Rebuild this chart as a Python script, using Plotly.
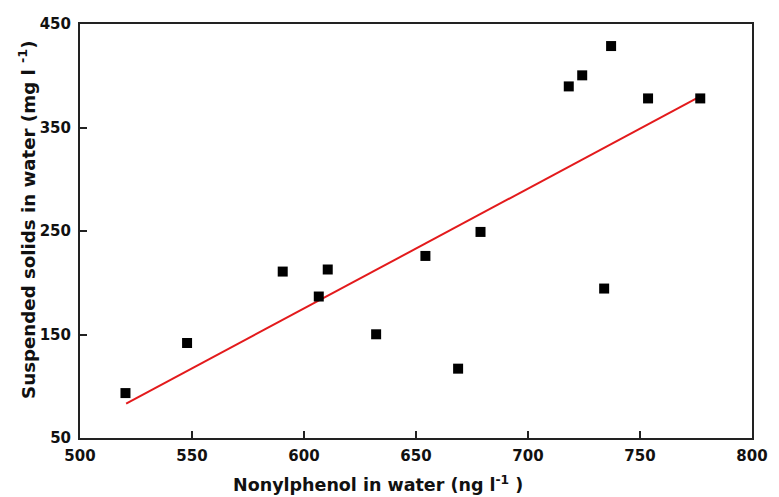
import plotly.graph_objects as go

# Data
nonylphenol = [520.3, 547.8, 590.5, 610.6, 606.6, 632.2, 654.2, 678.8, 668.8,
               737.1, 724.2, 718.2, 753.6, 776.9, 734.0]
suspended = [93.4, 141.8, 210.8, 212.8, 186.7, 150.2, 225.9, 249.1, 117.0,
             428.7, 400.4, 389.7, 378.1, 378.1, 194.4]

fit_x = [520.6, 777.3]
fit_y = [83.2, 380.5]

x_ticks = [500, 550, 600, 650, 700, 750, 800]
y_ticks = [50, 150, 250, 350, 450]

FONT = "DejaVu Sans, sans-serif"

fig = go.Figure()
fig.add_trace(go.Scatter(
    x=fit_x, y=fit_y, mode="lines",
    line=dict(color="#e31a1c", width=2), showlegend=False, hoverinfo="skip"))
fig.add_trace(go.Scatter(
    x=nonylphenol, y=suspended, mode="markers",
    marker=dict(symbol="square", size=10, color="black"), showlegend=False))

axis_common = dict(
    showline=True, linecolor="#222222", linewidth=2, mirror=True,
    showgrid=False, zeroline=False, ticks="inside", ticklen=7, tickwidth=2,
    tickcolor="#222222",
    tickfont=dict(family=FONT, size=15, color="#111111", weight="bold"),
)

fig.update_xaxes(range=[500, 800], tickvals=x_ticks,
                 ticktext=[str(v) for v in x_ticks], ticklabelstandoff=3,
                 **axis_common)
fig.update_yaxes(range=[50, 450], tickvals=y_ticks,
                 ticktext=[str(v) for v in y_ticks], ticklabelstandoff=4,
                 **axis_common)

fig.update_layout(
    width=771, height=489,
    margin=dict(l=72, r=27, t=16, b=59, pad=0, autoexpand=False),
    paper_bgcolor="white", plot_bgcolor="white",
    font=dict(family=FONT),
    annotations=[
        dict(text="<b>Nonylphenol in water (ng l<sup>-1</sup> )</b>",
             xref="paper", yref="paper", x=0.4435, y=-0.1425,
             xanchor="center", yanchor="bottom", showarrow=False,
             font=dict(family=FONT, size=17.5, color="#111111")),
        dict(text="<b>Suspended solids in water (mg l <sup>-1</sup>)</b>",
             xref="paper", yref="paper", x=-0.079, y=0.5266,
             xanchor="center", yanchor="middle", textangle=-90,
             showarrow=False,
             font=dict(family=FONT, size=18.2, color="#111111")),
    ],
)

fig.write_html("out.html")
